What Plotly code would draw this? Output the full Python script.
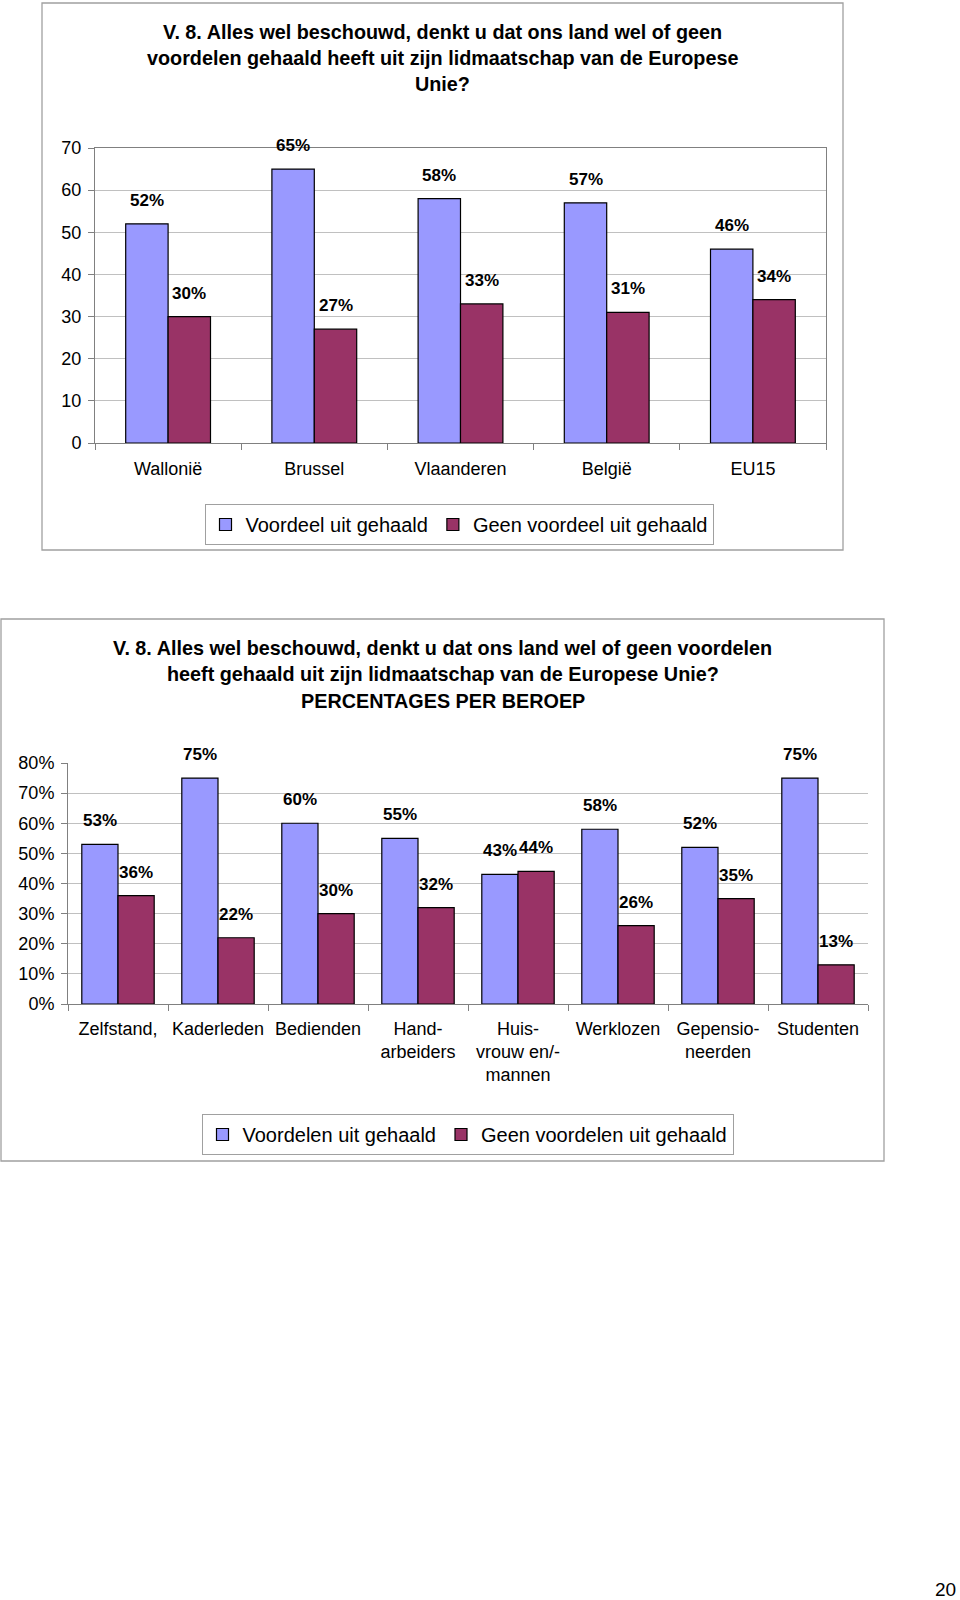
import plotly.graph_objects as go

# ---------------- data ----------------
regions = ["Wallonië", "Brussel", "Vlaanderen", "België", "EU15"]
voordeel = [52, 65, 58, 57, 46]
geen_voordeel = [30, 27, 33, 31, 34]
y1_ticks = [0, 10, 20, 30, 40, 50, 60, 70]

beroepen = ["Zelfstand,", "Kaderleden", "Bedienden", "Hand-<br>arbeiders",
            "Huis-<br>vrouw en/-<br>mannen", "Werklozen", "Gepensio-<br>neerden", "Studenten"]
voordelen = [53, 75, 60, 55, 43, 58, 52, 75]
geen_voordelen = [36, 22, 30, 32, 44, 26, 35, 13]
y2_ticks = [0, 10, 20, 30, 40, 50, 60, 70, 80]
y2_ticktext = ["0%", "10%", "20%", "30%", "40%", "50%", "60%", "70%", "80%"]

title1 = ["V. 8. Alles wel beschouwd, denkt u dat ons land wel of geen",
          "voordelen gehaald heeft uit zijn lidmaatschap van de Europese",
          "Unie?"]
title2 = ["V. 8. Alles wel beschouwd, denkt u dat ons land wel of geen voordelen",
          "heeft gehaald uit zijn lidmaatschap van de Europese Unie?",
          "PERCENTAGES PER BEROEP"]

# ---------------- style ----------------
W, H = 960, 1600
BLUE = "#9999FF"
RED = "#993366"
GRID = "#C0C0C0"
AX = "#808080"
FONT = "Liberation Sans, Arial, sans-serif"

def px(x):
    return x / W

def py(y):
    return 1 - y / H

fig = go.Figure()

gap1 = 0.42
gap2 = 0.276
w1 = (1 - gap1) / 2
w2 = (1 - gap2) / 2

fig.add_trace(go.Bar(x=regions, y=voordeel, name="Voordeel uit gehaald",
                     marker=dict(color=BLUE, line=dict(color="#000000", width=1.2)),
                     xaxis="x", yaxis="y", legend="legend", width=w1, offset=-w1))
fig.add_trace(go.Bar(x=regions, y=geen_voordeel, name="Geen voordeel uit gehaald",
                     marker=dict(color=RED, line=dict(color="#000000", width=1.2)),
                     xaxis="x", yaxis="y", legend="legend", width=w1, offset=0))
fig.add_trace(go.Bar(x=beroepen, y=voordelen, name="Voordelen uit gehaald",
                     marker=dict(color=BLUE, line=dict(color="#000000", width=1.2)),
                     xaxis="x2", yaxis="y2", legend="legend2", width=w2, offset=-w2))
fig.add_trace(go.Bar(x=beroepen, y=geen_voordelen, name="Geen voordelen uit gehaald",
                     marker=dict(color=RED, line=dict(color="#000000", width=1.2)),
                     xaxis="x2", yaxis="y2", legend="legend2", width=w2, offset=0))

annotations = []
lab_font = dict(family=FONT, size=17, color="#000000", weight="bold")

def add_labels(vals, off, xref, yref):
    for i, v in enumerate(vals):
        annotations.append(dict(x=i + off, y=v, xref=xref, yref=yref, text=f"{v}%",
                                showarrow=False, yanchor="bottom", yshift=12,
                                font=lab_font))

add_labels(voordeel, -w1 / 2, "x", "y")
add_labels(geen_voordeel, w1 / 2, "x", "y")
add_labels(voordelen, -w2 / 2, "x2", "y2")
add_labels(geen_voordelen, w2 / 2, "x2", "y2")

title_font = dict(family=FONT, size=19.8, color="#000000", weight="bold")
for line, yy in zip(title1, [32, 58, 84]):
    annotations.append(dict(x=px(442.5), y=py(yy), xref="paper", yref="paper", text=line,
                            showarrow=False, xanchor="center", yanchor="middle", font=title_font))
for line, yy in zip(title2, [648, 674, 701]):
    annotations.append(dict(x=px(442.5), y=py(yy), xref="paper", yref="paper", text=line,
                            showarrow=False, xanchor="center", yanchor="middle", font=title_font))

annotations.append(dict(x=px(945), y=py(1589), xref="paper", yref="paper", text="20",
                        showarrow=False, xanchor="center", yanchor="middle",
                        font=dict(family=FONT, size=19, color="#000000")))

shapes = [
    dict(type="rect", xref="paper", yref="paper", x0=px(42), x1=px(843), y0=py(550), y1=py(3),
         line=dict(color="#A0A0A0", width=1.3)),
    dict(type="rect", xref="paper", yref="paper", x0=px(1), x1=px(884), y0=py(1161), y1=py(619),
         line=dict(color="#A0A0A0", width=1.3)),
]

tick_font = dict(family=FONT, size=18, color="#000000")
leg_font = dict(family=FONT, size=20, color="#000000")

fig.update_layout(
    width=W, height=H,
    margin=dict(l=0, r=0, t=0, b=0, autoexpand=False),
    paper_bgcolor="white", plot_bgcolor="white",
    font=dict(family=FONT, color="#000000"),
    barmode="overlay",
    annotations=annotations,
    shapes=shapes,
    xaxis=dict(domain=[px(95), px(826)], anchor="y", type="category",
               showline=True, linecolor=AX, linewidth=1, mirror=True,
               ticks="outside", tickson="boundaries", ticklen=6, tickcolor=AX,
               tickfont=tick_font, ticklabelstandoff=9, tickangle=0, showgrid=False),
    yaxis=dict(domain=[py(443), py(148)], anchor="x", range=[0, 70], tickvals=y1_ticks,
               showline=True, linecolor=AX, linewidth=1, mirror=True,
               ticks="outside", ticklen=6, tickcolor=AX,
               showgrid=True, gridcolor=GRID, gridwidth=1,
               tickfont=tick_font, ticklabelstandoff=3, zeroline=False),
    xaxis2=dict(domain=[px(68), px(868)], anchor="y2", type="category",
                showline=True, linecolor=AX, linewidth=1,
                ticks="outside", tickson="boundaries", ticklen=6, tickcolor=AX,
                tickfont=tick_font, ticklabelstandoff=8, tickangle=0, showgrid=False),
    yaxis2=dict(domain=[py(1004), py(763)], anchor="x2", range=[0, 80],
                tickvals=y2_ticks, ticktext=y2_ticktext,
                showline=True, linecolor=AX, linewidth=1,
                ticks="outside", ticklen=6, tickcolor=AX,
                showgrid=True, gridcolor=GRID, gridwidth=1,
                tickfont=tick_font, ticklabelstandoff=3, zeroline=False),
    legend=dict(orientation="h", x=px(459), y=py(524.5), xanchor="center", yanchor="middle",
                bordercolor="#A0A0A0", borderwidth=1, bgcolor="white",
                font=leg_font, itemwidth=30, tracegroupgap=0),
    legend2=dict(orientation="h", x=px(467.5), y=py(1134.5), xanchor="center", yanchor="middle",
                 bordercolor="#A0A0A0", borderwidth=1, bgcolor="white",
                 font=leg_font, itemwidth=30, tracegroupgap=0),
    showlegend=True,
)

fig.write_html(
    "out.html",
    config={"displayModeBar": False},
    post_script=(
        "document.documentElement.style.margin='0';"
        "document.body.style.margin='0';document.body.style.padding='0';"
        "document.documentElement.style.overflow='hidden';"
        "var g=document.getElementsByClassName('plotly-graph-div')[0];"
        "g.style.position='fixed';g.style.top='0';g.style.left='0';"
    ),
)
